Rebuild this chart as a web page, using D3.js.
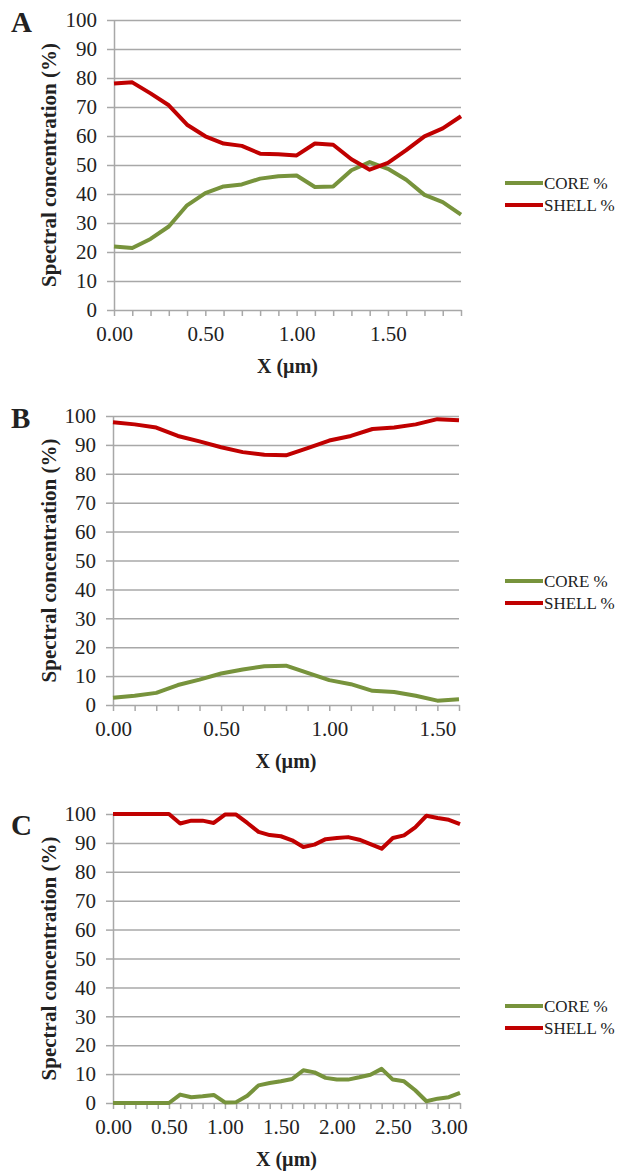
<!DOCTYPE html>
<html>
<head>
<meta charset="utf-8">
<script src="https://cdn.jsdelivr.net/npm/d3@7"></script>
<style>
    body { margin: 0; background: #fff; }
    text { font-family: "Liberation Serif", "Times New Roman", serif; fill: #222; }
    .grid line { stroke: #a8a8a8; stroke-width: 1.5; }
    .grid .domain { display: none; }
    .axis line, .axis path { stroke: #a8a8a8; stroke-width: 1.5; }
    .axis text { font-size: 21px; fill: #222; }
</style>
</head>
<body>
<script>
// y axis ticks shared by all three panels
const yTicks = [0, 10, 20, 30, 40, 50, 60, 70, 80, 90, 100];

// Panel A
const xA = [0.0, 0.1, 0.2, 0.3, 0.4, 0.5, 0.6, 0.7, 0.8, 0.9, 1.0, 1.1, 1.2, 1.3, 1.4, 1.5, 1.6, 1.7, 1.8, 1.9];
const coreA = [21.9, 21.4, 24.5, 28.8, 36.1, 40.3, 42.6, 43.3, 45.3, 46.1, 46.4, 42.4, 42.6, 48.2, 51.0, 48.7, 44.9, 39.7, 37.2, 32.9];
const shellA = [78.1, 78.5, 74.7, 70.6, 63.9, 59.9, 57.4, 56.6, 53.9, 53.7, 53.3, 57.4, 57.0, 52.0, 48.4, 50.7, 55.1, 59.9, 62.6, 66.8];
const xLabelsA = ["0.00", "0.50", "1.00", "1.50"];

// Panel B
const xB = [0.0, 0.1, 0.2, 0.3, 0.4, 0.5, 0.6, 0.7, 0.8, 0.9, 1.0, 1.1, 1.2, 1.3, 1.4, 1.5, 1.6];
const coreB = [2.5, 3.2, 4.2, 6.9, 8.8, 10.9, 12.3, 13.4, 13.6, 11.1, 8.6, 7.2, 4.9, 4.5, 3.2, 1.5, 2.0];
const shellB = [97.8, 97.1, 96.0, 93.1, 91.2, 89.2, 87.5, 86.6, 86.4, 88.9, 91.5, 93.1, 95.5, 96.0, 97.1, 98.9, 98.5];
const xLabelsB = ["0.00", "0.50", "1.00", "1.50"];

// Panel C
const xC = [0.0, 0.1, 0.2, 0.3, 0.4, 0.5, 0.6, 0.7, 0.8, 0.9, 1.0, 1.1, 1.2, 1.3, 1.4, 1.5,
    1.6, 1.7, 1.8, 1.9, 2.0, 2.1, 2.2, 2.3, 2.4, 2.5, 2.6, 2.7, 2.8, 2.9, 3.0, 3.1];
const coreC = [0, 0, 0, 0, 0, 0, 2.9, 2.0, 2.3, 2.8, 0.2, 0.3, 2.5, 6.1, 6.9, 7.5,
    8.3, 11.3, 10.6, 8.7, 8.1, 8.1, 8.9, 9.8, 11.8, 8.1, 7.5, 4.4, 0.6, 1.5, 2.0, 3.5];
const shellC = [100, 100, 100, 100, 100, 100, 96.7, 97.7, 97.7, 96.9, 99.8, 99.8, 96.9, 93.8, 92.7, 92.3,
    90.9, 88.6, 89.4, 91.3, 91.7, 92.0, 91.1, 89.6, 88.0, 91.7, 92.6, 95.4, 99.4, 98.6, 98.0, 96.5];
const xLabelsC = ["0.00", "0.50", "1.00", "1.50", "2.00", "2.50", "3.00"];

const seriesNames = ["CORE %", "SHELL %"];
const colors = ["#77933c", "#c00000"];

const svg = d3.select("body").append("svg")
    .attr("width", 618)
    .attr("height", 1171);

function drawPanel(cfg) {
    const x = d3.scaleLinear().domain([cfg.xs[0], cfg.xs[cfg.xs.length - 1]]).range([cfg.left, cfg.right]);
    const y = d3.scaleLinear().domain([0, 100]).range([cfg.bottom, cfg.top]);
    const w = cfg.right - cfg.left;

    const g = svg.append("g");

    // horizontal gridlines
    g.append("g")
        .attr("class", "grid")
        .attr("transform", `translate(${cfg.left},0)`)
        .call(d3.axisLeft(y).tickValues(yTicks.filter(d => d > 0)).tickSize(-w).tickFormat(""));

    // y axis with small outside ticks
    g.append("g")
        .attr("class", "axis")
        .attr("transform", `translate(${cfg.left},0)`)
        .call(d3.axisLeft(y).tickValues(yTicks).tickSize(7).tickSizeOuter(0).tickPadding(10));

    // x axis, a tick for each category, labels every 0.5
    const labelled = new Set(cfg.xLabels.map(Number));
    g.append("g")
        .attr("class", "axis")
        .attr("transform", `translate(0,${cfg.bottom})`)
        .call(d3.axisBottom(x).tickValues(cfg.xs).tickSize(6).tickSizeOuter(0).tickPadding(10)
            .tickFormat(d => labelled.has(d) ? d.toFixed(2) : ""));

    const line = d3.line()
        .x((d, i) => x(cfg.xs[i]))
        .y(d => y(d));

    [cfg.core, cfg.shell].forEach((vals, i) => {
        g.append("path")
            .datum(vals)
            .attr("fill", "none")
            .attr("stroke", colors[i])
            .attr("stroke-width", 4)
            .attr("stroke-linejoin", "round")
            .attr("d", line);
    });

    // panel letter
    g.append("text")
        .attr("x", 11)
        .attr("y", cfg.letterY)
        .attr("font-size", 29)
        .attr("font-weight", "bold")
        .text(cfg.letter);

    // axis titles
    const midY = (cfg.top + cfg.bottom) / 2;
    g.append("text")
        .attr("transform", `translate(56,${midY}) rotate(-90)`)
        .attr("text-anchor", "middle")
        .attr("font-size", 21)
        .attr("font-weight", "bold")
        .text("Spectral concentration (%)");

    g.append("text")
        .attr("x", (cfg.left + cfg.right) / 2)
        .attr("y", cfg.bottom + 63)
        .attr("text-anchor", "middle")
        .attr("font-size", 20)
        .attr("font-weight", "bold")
        .text("X (\u00b5m)");

    // legend
    seriesNames.forEach((name, i) => {
        const ly = cfg.legendY + i * 22;
        g.append("line")
            .attr("x1", 505).attr("x2", 543)
            .attr("y1", ly).attr("y2", ly)
            .attr("stroke", colors[i])
            .attr("stroke-width", 4);
        g.append("text")
            .attr("x", 544)
            .attr("y", ly)
            .attr("dy", "0.35em")
            .attr("font-size", 17)
            .text(name);
    });
}

drawPanel({ letter: "A", letterY: 32, xs: xA, core: coreA, shell: shellA, xLabels: xLabelsA,
    left: 114, right: 461, top: 20, bottom: 310, legendY: 183 });
drawPanel({ letter: "B", letterY: 428, xs: xB, core: coreB, shell: shellB, xLabels: xLabelsB,
    left: 113, right: 459, top: 416, bottom: 705, legendY: 581 });
drawPanel({ letter: "C", letterY: 835, xs: xC, core: coreC, shell: shellC, xLabels: xLabelsC,
    left: 113, right: 460, top: 814, bottom: 1103, legendY: 1006 });
</script>
</body>
</html>
